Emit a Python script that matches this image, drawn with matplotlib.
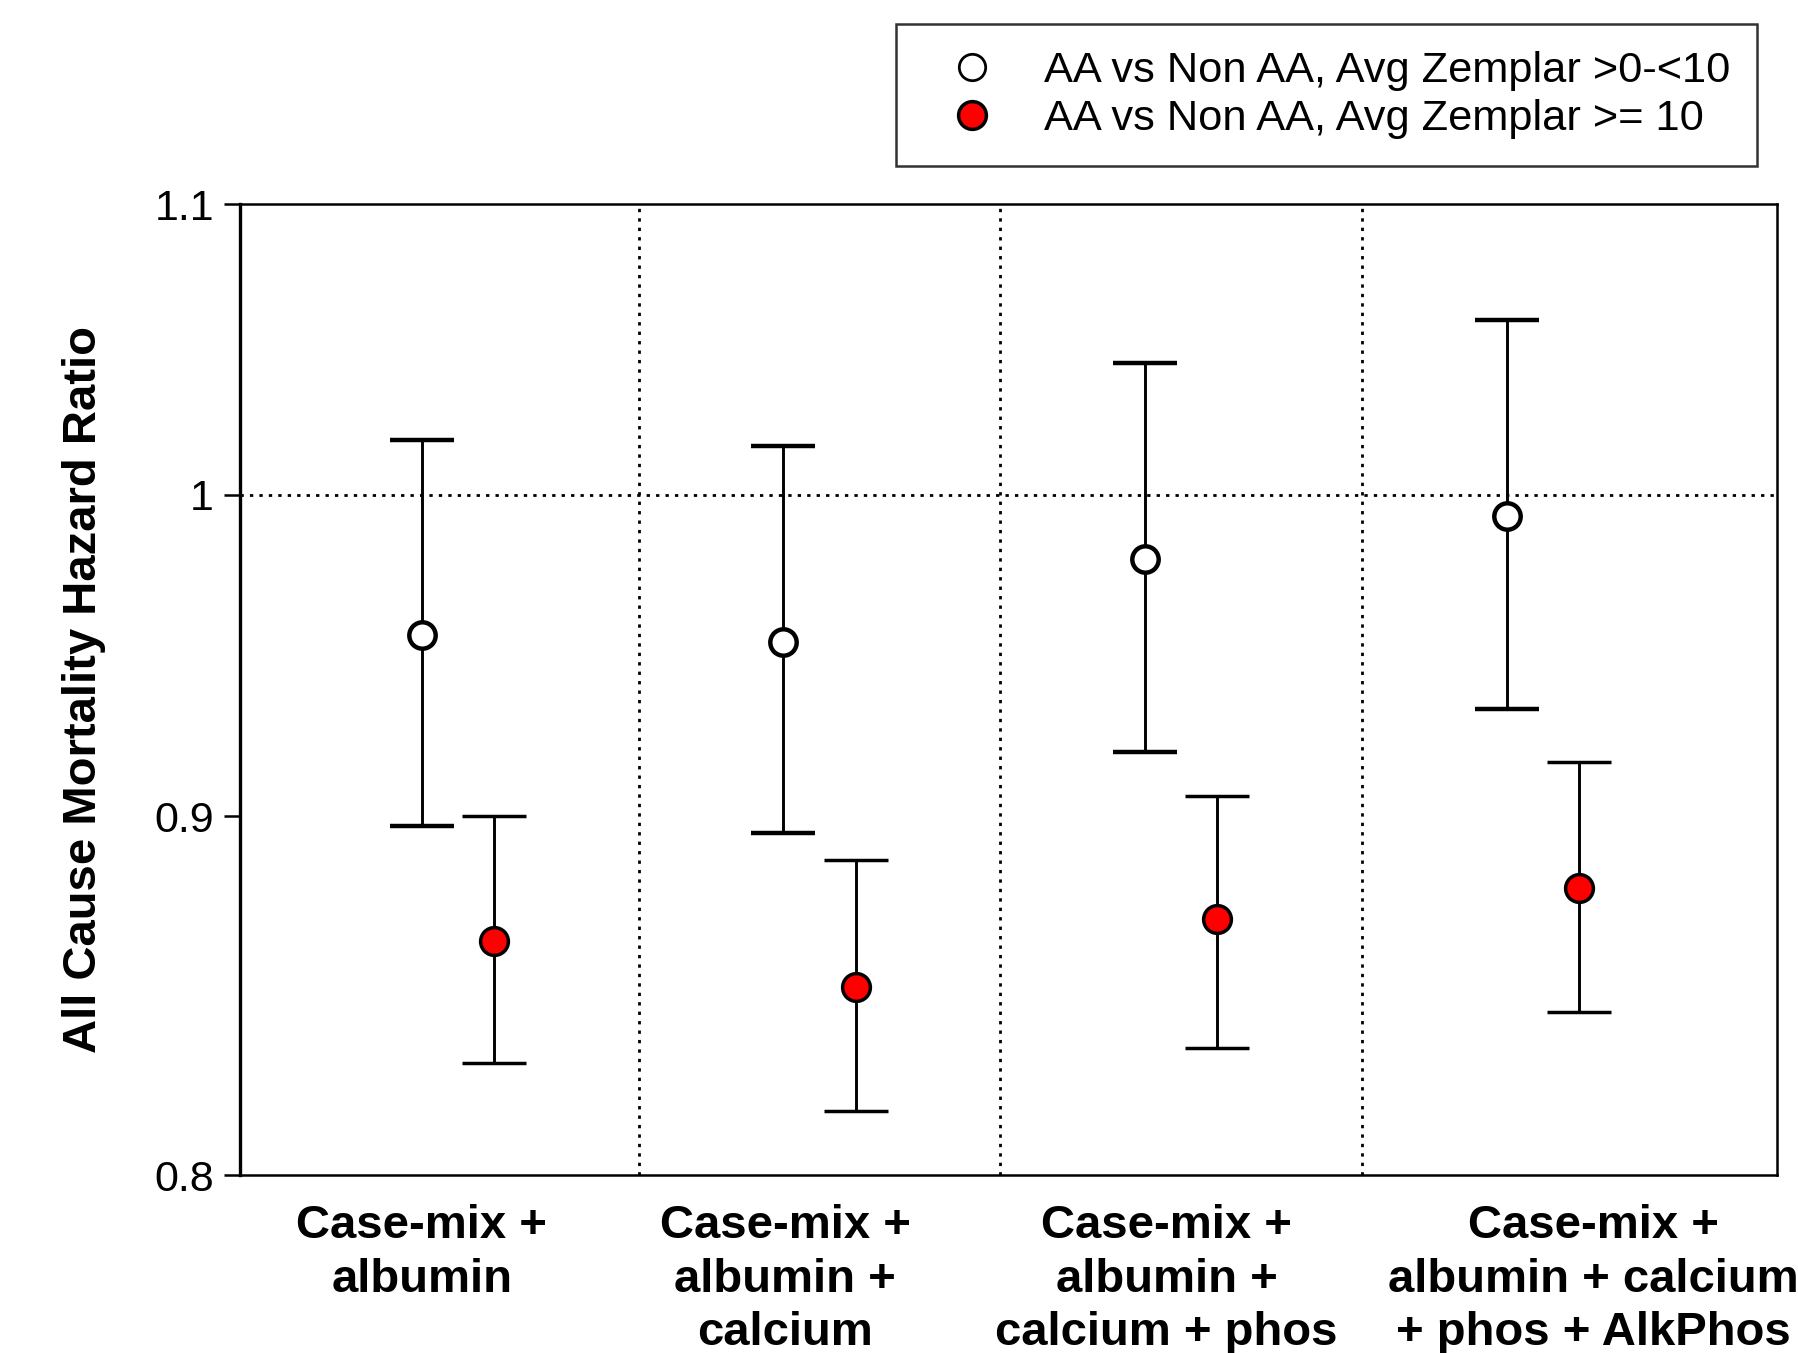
import numpy as np
import matplotlib
matplotlib.use("Agg")
import matplotlib.pyplot as plt
from matplotlib.lines import Line2D

plt.rcParams["font.family"] = ["Liberation Sans", "DejaVu Sans"]

# Data: hazard ratio estimates with 95% CI
categories = ["Case-mix +\nalbumin",
              "Case-mix +\nalbumin +\ncalcium",
              "Case-mix +\nalbumin +\ncalcium + phos",
              "Case-mix +\nalbumin + calcium\n+ phos + AlkPhos"]
low_hr = [0.955, 0.953, 0.979, 0.993]
low_lo = [0.897, 0.895, 0.919, 0.932]
low_hi = [1.018, 1.016, 1.044, 1.059]
high_hr = [0.864, 0.851, 0.870, 0.879]
high_lo = [0.830, 0.817, 0.834, 0.844]
high_hi = [0.900, 0.887, 0.906, 0.916]
label_low = "AA vs Non AA, Avg Zemplar >0-<10"
label_high = "AA vs Non AA, Avg Zemplar >= 10"

# category label anchor positions (labels aren't centred on the groups)
label_pos = [0.9, 1.905, 2.96, 4.14]

x = np.arange(1, len(categories) + 1)
offset = 0.1

fig = plt.figure(figsize=(17.98, 13.53), dpi=100)
ax = fig.add_axes([0.1333, 0.1314, 0.8552, 0.7178])

ax.errorbar(x - offset, low_hr,
            yerr=[np.array(low_hr) - np.array(low_lo), np.array(low_hi) - np.array(low_hr)],
            fmt="o", color="black", mfc="white", mec="black", ms=19, mew=3.2,
            elinewidth=2.1, capsize=23, capthick=2.1, zorder=3)
ax.errorbar(x + offset, high_hr,
            yerr=[np.array(high_hr) - np.array(high_lo), np.array(high_hi) - np.array(high_hr)],
            fmt="o", color="black", mfc="#ff0000", mec="black", ms=20, mew=2.5,
            elinewidth=2.1, capsize=23, capthick=2.1, zorder=3)

ax.set_yscale("log")
ax.set_ylim(0.8, 1.1)
ax.set_xlim(0.396, 4.649)
yt = [0.8, 0.9, 1.0, 1.1]
ax.yaxis.set_minor_locator(matplotlib.ticker.NullLocator())
ax.set_yticks(yt)
ax.set_yticklabels(["0.8", "0.9", "1", "1.1"], fontsize=31)
ax.tick_params(axis="y", direction="out", length=11.5, width=1.8, pad=7)

ax.set_xticks(label_pos)
ax.set_xticklabels(categories, fontsize=34, fontweight="bold", linespacing=1.27)
ax.tick_params(axis="x", length=0, pad=21)

# reference line and group dividers
ax.axhline(1.0, color="black", linestyle=(0, (1.2, 2.2)), linewidth=2, zorder=1)
for d in [1.5, 2.5, 3.5]:
    ax.axvline(d, color="black", linestyle=(0, (1.2, 2.2)), linewidth=2, zorder=1)

for s in ax.spines.values():
    s.set_linewidth(1.8)
ax.spines["left"].set_linewidth(2.4)

ax.set_ylabel("All Cause Mortality Hazard Ratio", fontsize=34, fontweight="bold")
ax.yaxis.set_label_coords(-0.087, 0.5)

handles = [Line2D([], [], linestyle="none", marker="o", ms=19, mfc="white", mec="black", mew=2),
           Line2D([], [], linestyle="none", marker="o", ms=20, mfc="#ff0000", mec="black", mew=2.5)]
leg = fig.legend(handles, [label_low, label_high], loc="upper right",
                 bbox_to_anchor=(0.9772, 0.9823), fontsize=31.2, frameon=True,
                 fancybox=False, edgecolor="black", borderpad=0.62, labelspacing=0.2,
                 handlelength=2.25, handletextpad=0.54, borderaxespad=0)
leg.get_frame().set_linewidth(1.8)

plt.savefig("out.png", dpi=100)
